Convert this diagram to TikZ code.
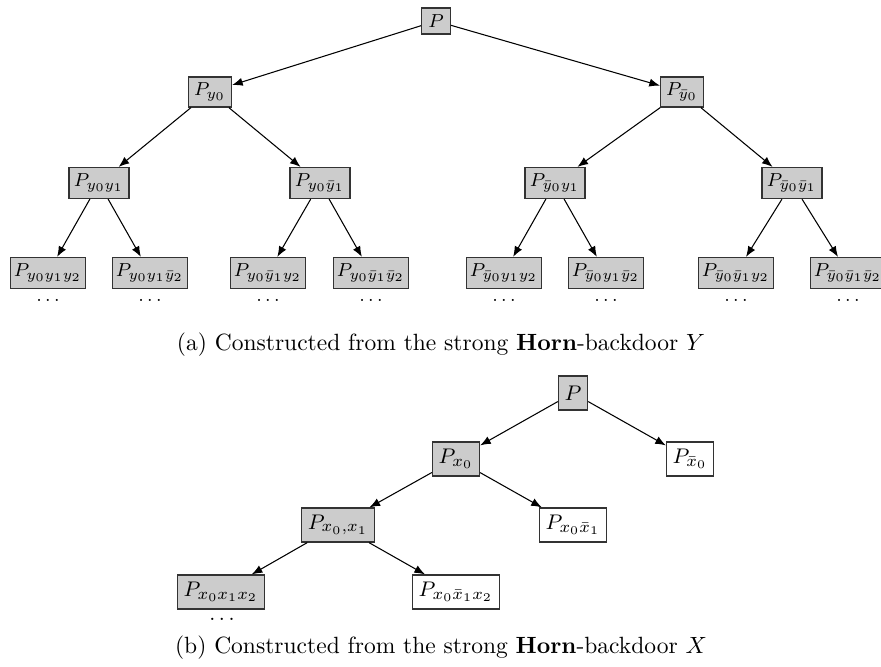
\documentclass[tikz,border=0pt]{standalone}
\usetikzlibrary{arrows.meta}
\begin{document}
\begin{tikzpicture}[x=0.4255pt,y=-0.4255pt,
  gbox/.style={draw=black!80,fill=black!20,line width=0.5pt,inner sep=2.2pt,minimum height=13pt},
  wbox/.style={draw=black!80,fill=white,line width=0.5pt,inner sep=2.2pt,minimum height=13pt},
  topf/.style={font=\fontsize{8}{9.6}\selectfont,inner xsep=1.5pt,inner ysep=1pt},
  lv0/.style={minimum width=12.3pt,minimum height=11pt},
  lv1/.style={minimum width=18.3pt,minimum height=12.8pt},
  lv2/.style={minimum width=25.5pt,minimum height=13.2pt},
  lv3/.style={minimum width=30.5pt,minimum height=13.2pt},
  botf/.style={font=\fontsize{9.5}{11}\selectfont,minimum height=14.5pt,inner sep=2.6pt},
  edge/.style={-{Latex[length=4.5pt,width=3.5pt]},line width=0.45pt},
  dotsn/.style={inner sep=0pt}]
\useasboundingbox (0,0) rectangle (881,666);
% ---- tree (a)
\node[gbox,topf,lv0] (p) at (436,21) {$P$};
\node[gbox,topf,lv1] (a0) at (210,92) {$P_{y_0}$};
\node[gbox,topf,lv1] (b0) at (682,92) {$P_{\bar y_0}$};
\node[gbox,topf,lv2] (a00) at (99,183) {$P_{y_0y_1}$};
\node[gbox,topf,lv2] (a01) at (320,183) {$P_{y_0\bar y_1}$};
\node[gbox,topf,lv2] (b10) at (555,183) {$P_{\bar y_0y_1}$};
\node[gbox,topf,lv2] (b11) at (792,183) {$P_{\bar y_0\bar y_1}$};
\node[gbox,topf,lv3] (c1) at (48,273) {$P_{y_0y_1y_2}$};
\node[gbox,topf,lv3] (c2) at (150,273) {$P_{y_0y_1\bar y_2}$};
\node[gbox,topf,lv3] (c3) at (268,273) {$P_{y_0\bar y_1y_2}$};
\node[gbox,topf,lv3] (c4) at (371,273) {$P_{y_0\bar y_1\bar y_2}$};
\node[gbox,topf,lv3] (c5) at (504,273) {$P_{\bar y_0y_1y_2}$};
\node[gbox,topf,lv3] (c6) at (606,273) {$P_{\bar y_0y_1\bar y_2}$};
\node[gbox,topf,lv3] (c7) at (736,273) {$P_{\bar y_0\bar y_1y_2}$};
\node[gbox,topf,lv3] (c8) at (848,273) {$P_{\bar y_0\bar y_1\bar y_2}$};
\foreach \n/\x in {d1/48,d2/150,d3/268,d4/371,d5/504,d6/606,d7/736,d8/848}
  \node[dotsn,font=\fontsize{8}{9.6}\selectfont] (\n) at (\x,300) {$\ldots$};
\draw[edge] (p) -- (a0);
\draw[edge] (p) -- (b0);
\draw[edge] (a0) -- (a00);
\draw[edge] (a0) -- (a01);
\draw[edge] (b0) -- (b10);
\draw[edge] (b0) -- (b11);
\draw[edge] (a00) -- (c1);
\draw[edge] (a00) -- (c2);
\draw[edge] (a01) -- (c3);
\draw[edge] (a01) -- (c4);
\draw[edge] (b10) -- (c5);
\draw[edge] (b10) -- (c6);
\draw[edge] (b11) -- (c7);
\draw[edge] (b11) -- (c8);
\node (capa) at (441,345) {(a) Constructed from the strong \textbf{Horn}-backdoor $Y$};
% ---- tree (b)
\node[gbox,botf] (q) at (573,393) {$P$};
\node[gbox,botf] (x0) at (456,459) {$P_{x_0}$};
\node[wbox,botf] (nx0) at (690,459) {$P_{\bar x_0}$};
\node[gbox,botf] (x01) at (338,525) {$P_{x_0,x_1}$};
\node[wbox,botf] (x0n1) at (573,525) {$P_{x_0\bar x_1}$};
\node[gbox,botf] (x012) at (221,592) {$P_{x_0x_1x_2}$};
\node[wbox,botf] (x0n12) at (456,592) {$P_{x_0\bar x_1x_2}$};
\node[dotsn,font=\fontsize{9.5}{11}\selectfont] (dq) at (222,619) {$\ldots$};
\draw[edge] (q) -- (x0);
\draw[edge] (q) -- (nx0);
\draw[edge] (x0) -- (x01);
\draw[edge] (x0) -- (x0n1);
\draw[edge] (x01) -- (x012);
\draw[edge] (x01) -- (x0n12);
\node (capb) at (441,648) {(b) Constructed from the strong \textbf{Horn}-backdoor $X$};
\end{tikzpicture}
\end{document}
